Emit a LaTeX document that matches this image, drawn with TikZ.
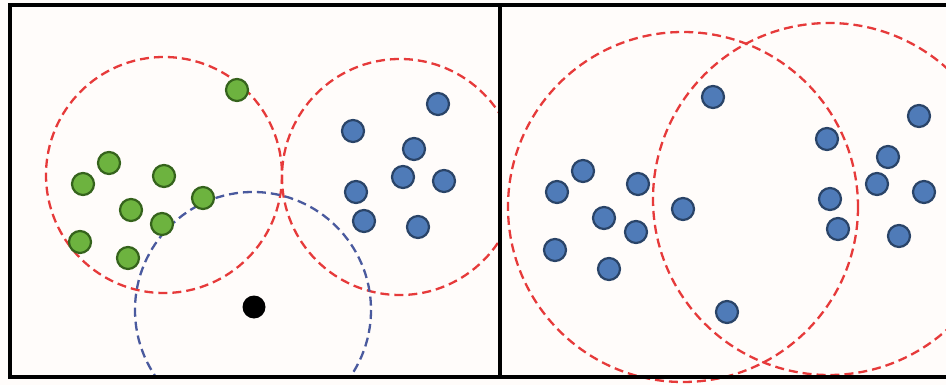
\documentclass[tikz,border=0pt]{standalone}
\begin{document}
\begin{tikzpicture}[x=1pt,y=-1pt,
  gdot/.style={circle,draw=gdraw,fill=gfill,line width=2.2pt,minimum size=22pt,inner sep=0pt},
  bdot/.style={circle,draw=bdraw,fill=bfill,line width=2.2pt,minimum size=22pt,inner sep=0pt},
  kdot/.style={circle,fill=black,minimum size=23pt,inner sep=0pt},
  redring/.style={draw=rring,line width=2.3pt,dash pattern=on 9pt off 5pt},
  bluering/.style={draw=bring,line width=2.3pt,dash pattern=on 9pt off 5pt},
  frameline/.style={draw=black,line width=4.5pt}]
\definecolor{bfill}{HTML}{4F7BB8}
\definecolor{bdraw}{HTML}{2A4468}
\definecolor{gfill}{HTML}{6DB33F}
\definecolor{gdraw}{HTML}{35631C}
\definecolor{rring}{HTML}{E63A3A}
\definecolor{bring}{HTML}{4A5A9E}
\definecolor{bgcol}{HTML}{FFFCFA}
\fill[bgcol] (0,0) rectangle (946,385);
\useasboundingbox (0,0) rectangle (946,385);
% left panel
\begin{scope}
\clip (10,5) rectangle (500,377);
\draw[redring] (164,175) circle (118);
\draw[redring] (400,177) circle (118);
\draw[bluering] (253,310) circle (118);
\end{scope}
% right panel
\begin{scope}
\clip (500,5) rectangle (946,384);
\draw[redring] (683,207) circle (175);
\draw[redring] (829,199) circle (176);
\end{scope}
% green cluster
\node[gdot] (g1) at (237,90) {};
\node[gdot] (g2) at (109,163) {};
\node[gdot] (g3) at (83,184) {};
\node[gdot] (g4) at (164,176) {};
\node[gdot] (g5) at (203,198) {};
\node[gdot] (g6) at (131,210) {};
\node[gdot] (g7) at (162,224) {};
\node[gdot] (g8) at (80,242) {};
\node[gdot] (g9) at (128,258) {};
% blue cluster left panel
\node[bdot] (a1) at (438,104) {};
\node[bdot] (a2) at (353,131) {};
\node[bdot] (a3) at (414,149) {};
\node[bdot] (a4) at (403,177) {};
\node[bdot] (a5) at (444,181) {};
\node[bdot] (a6) at (356,192) {};
\node[bdot] (a7) at (364,221) {};
\node[bdot] (a8) at (418,227) {};
% query point
\node[kdot] (q) at (254,307) {};
% right panel dots
\node[bdot] (r1) at (713,97) {};
\node[bdot] (r2) at (583,171) {};
\node[bdot] (r3) at (557,192) {};
\node[bdot] (r4) at (638,184) {};
\node[bdot] (r5) at (683,209) {};
\node[bdot] (r6) at (604,218) {};
\node[bdot] (r7) at (636,232) {};
\node[bdot] (r8) at (555,250) {};
\node[bdot] (r9) at (609,269) {};
\node[bdot] (r10) at (727,312) {};
\node[bdot] (s1) at (827,139) {};
\node[bdot] (s2) at (919,116) {};
\node[bdot] (s3) at (888,157) {};
\node[bdot] (s4) at (877,184) {};
\node[bdot] (s5) at (924,192) {};
\node[bdot] (s6) at (830,199) {};
\node[bdot] (s7) at (838,229) {};
\node[bdot] (s8) at (899,236) {};
% frame
\draw[frameline] (950,5) -- (10,5) -- (10,377) -- (950,377);
\draw[frameline] (500,5) -- (500,377);
\end{tikzpicture}
\end{document}
